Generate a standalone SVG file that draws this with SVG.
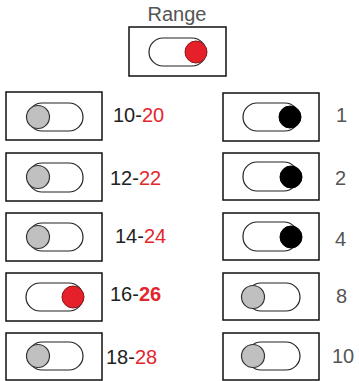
<svg xmlns="http://www.w3.org/2000/svg" width="359" height="381" viewBox="0 0 359 381">
<style>
.box{fill:#fff;stroke:#111;stroke-width:1.5}
.pill{fill:#fff;stroke:#222;stroke-width:1.2}
.off{fill:#c0c0c0;stroke:#333;stroke-width:1.2}
.on{fill:#000;stroke:#000;stroke-width:1}
.red{fill:#e5202a;stroke:#8a1a1a;stroke-width:1}
text{font-family:"Liberation Sans",Arial,sans-serif;font-size:20px;fill:#222}
.r{fill:#e3262d}
.b{font-weight:bold}
.lbl{fill:#555}
</style>
<rect width="359" height="381" fill="#fff"/>
<g id="range">
<text class="lbl" x="177" y="21" text-anchor="middle">Range</text>
<rect class="box" x="129" y="27" width="97" height="49"/>
<rect class="pill" x="149" y="38" width="57" height="28" rx="14"/>
<circle class="red" cx="196" cy="52" r="11"/>
</g>
<g id="l1">
<rect class="box" x="6" y="92" width="96" height="48"/>
<rect class="pill" x="28" y="103" width="55" height="28" rx="14"/>
<circle class="off" cx="38" cy="117" r="11.5"/>
<text x="113" y="122">10-<tspan class="r">20</tspan></text>
</g>
<g id="l2">
<rect class="box" x="6" y="153" width="96" height="48"/>
<rect class="pill" x="28" y="163" width="55" height="29" rx="14"/>
<circle class="off" cx="38" cy="177" r="11.5"/>
<text x="110" y="185">12-<tspan class="r">22</tspan></text>
</g>
<g id="l3">
<rect class="box" x="6" y="213" width="96" height="48"/>
<rect class="pill" x="28" y="223" width="55" height="28" rx="14"/>
<circle class="off" cx="38" cy="237" r="11.5"/>
<text x="115" y="243">14-<tspan class="r">24</tspan></text>
</g>
<g id="l4">
<rect class="box" x="6" y="273" width="96" height="48"/>
<rect class="pill" x="26" y="283" width="57" height="28" rx="14"/>
<circle class="red" cx="73" cy="297" r="11"/>
<text x="110" y="301">16-<tspan class="r b">26</tspan></text>
</g>
<g id="l5">
<rect class="box" x="6" y="333" width="96" height="47"/>
<rect class="pill" x="28" y="342" width="55" height="28" rx="14"/>
<circle class="off" cx="38" cy="356" r="11.5"/>
<text x="106" y="364">18-<tspan class="r">28</tspan></text>
</g>
<g id="r1">
<rect class="box" x="223" y="93" width="96" height="48"/>
<rect class="pill" x="243" y="103" width="56" height="28" rx="14"/>
<circle class="on" cx="290" cy="117" r="11"/>
<text class="lbl" x="336" y="122">1</text>
</g>
<g id="r2">
<rect class="box" x="223" y="153" width="96" height="47"/>
<rect class="pill" x="243" y="162" width="55" height="29" rx="14"/>
<circle class="on" cx="291" cy="177" r="11"/>
<text class="lbl" x="335" y="185">2</text>
</g>
<g id="r3">
<rect class="box" x="223" y="213" width="96" height="47"/>
<rect class="pill" x="243" y="222" width="55" height="29" rx="14"/>
<circle class="on" cx="291" cy="237" r="11"/>
<text class="lbl" x="335" y="246">4</text>
</g>
<g id="r4">
<rect class="box" x="223" y="273" width="96" height="47"/>
<rect class="pill" x="247" y="283" width="53" height="28" rx="14"/>
<circle class="off" cx="253" cy="297" r="11.5"/>
<text class="lbl" x="336" y="303">8</text>
</g>
<g id="r5">
<rect class="box" x="223" y="333" width="96" height="47"/>
<rect class="pill" x="247" y="342" width="53" height="28" rx="14"/>
<circle class="off" cx="253" cy="356" r="11.5"/>
<text class="lbl" x="332" y="363">10</text>
</g>
<g id="connectors"/>
</svg>
